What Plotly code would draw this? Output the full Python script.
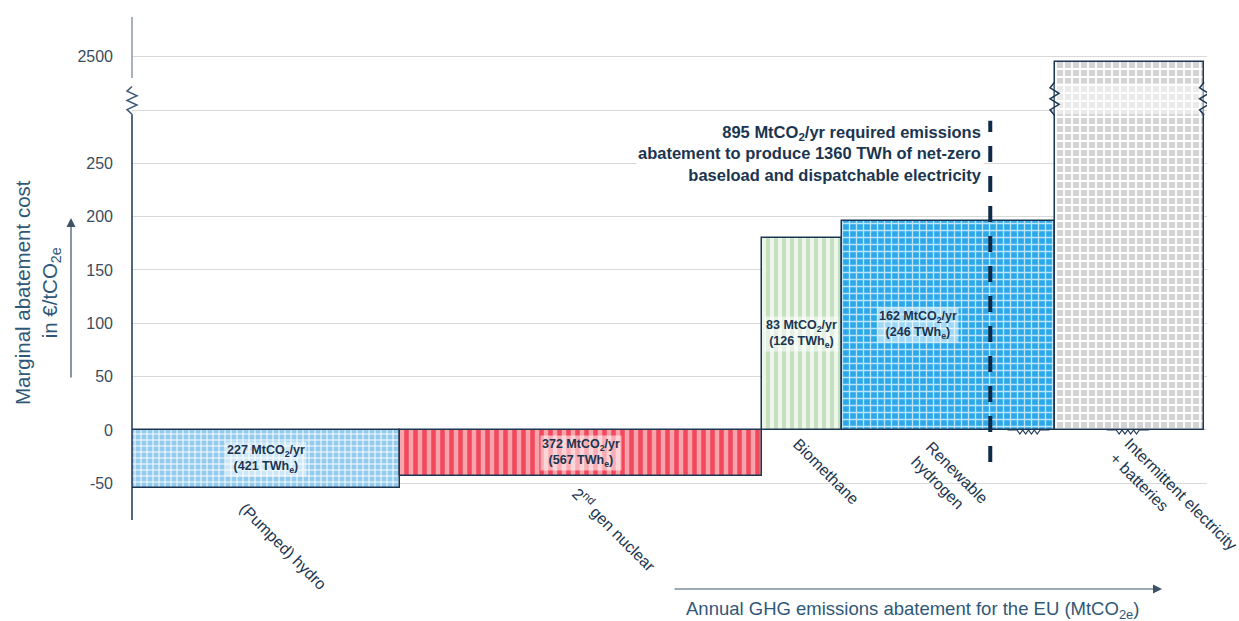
import plotly.graph_objects as go

# ---------------- data ----------------
categories = ["(Pumped) hydro", "2<sup>nd</sup> gen nuclear", "Biomethane",
              "Renewable<br>hydrogen", "Intermittent electricity<br>+ batteries"]
abatement_label_mt = [227, 372, 83, 162]        # MtCO2/yr printed inside the blocks
energy_label_twh = [421, 567, 126, 246]         # TWh_e printed inside the blocks
bar_width_mt = [279, 378, 83, 222, 156]         # block widths as drawn (MtCO2/yr)
abatement_cost = [-54, -43, 180, 196, 2495]     # €/tCO2e
required_abatement_mt = 895
required_twh = 1360
y_tick_values = [-50, 0, 50, 100, 150, 200, 250, 300, 2500]
y_tick_labels = ["-50", "0", "50", "100", "150", "200", "250", "", "2500"]

# ---------------- broken y-axis mapping ----------------
BREAK_AT = 300       # values above this are pulled down
BREAK_SKIP = 2150    # amount removed from values above the break


def disp(v):
    return v if v <= BREAK_AT else v - BREAK_SKIP


# ---------------- geometry / style ----------------
W, H = 1239, 621
ML, MR, MT, MB = 132, 32, 17, 101
PW, PH = W - ML - MR, H - MT - MB
X_RANGE = [0, 1121]
Y_RANGE = [-84.4, 387.2]
UX = (X_RANGE[1] - X_RANGE[0]) / PW   # data units per pixel (x)
UY = (Y_RANGE[1] - Y_RANGE[0]) / PH   # data units per pixel (y)

FONT = "Liberation Sans, Arial, sans-serif"
NAVY = "#1b3550"
TICK_C = "#3c4c5c"
TITLE_C = "#2f5878"
EDGE = "#1c3652"

bar_styles = [
    dict(bg="#93cbef", fg="#ffffff", shape="+", size=6, solidity=0.3),
    dict(bg="#f9a3ac", fg="#f1485b", shape="|", size=9, solidity=0.5),
    dict(bg="#eef6ec", fg="#c4e0bf", shape="|", size=8, solidity=0.5),
    dict(bg="#2aa8ea", fg="#bfe4f8", shape="+", size=7, solidity=0.35),
    dict(bg="#d4d4d4", fg="#ffffff", shape="+", size=8, solidity=0.4),
]
# pixel shifts of the rotated category labels
cat_shift = [(-32, -9), (-15, -4), (-15, -3), (-43, -5), (-25, -2)]

lefts, centers = [], []
acc = 0
for w in bar_width_mt:
    lefts.append(acc)
    centers.append(acc + w / 2)
    acc += w
rights = [l + w for l, w in zip(lefts, bar_width_mt)]

fig = go.Figure()
for i, cat in enumerate(categories):
    s = bar_styles[i]
    fig.add_trace(go.Bar(
        x=[centers[i]], y=[disp(abatement_cost[i])], width=[bar_width_mt[i]],
        marker=dict(color=s["bg"], line=dict(color=EDGE, width=1.5),
                    pattern=dict(shape=s["shape"], fgcolor=s["fg"], bgcolor=s["bg"],
                                 size=s["size"], solidity=s["solidity"], fgopacity=1)),
        hoverinfo="skip", showlegend=False, name=cat.replace("<br>", " ")))

shapes = []
annotations = []

# break band across the intermittent block
BAND = (296, 325)
shapes.append(dict(type="rect", xref="x", yref="y", x0=lefts[4], x1=rights[4],
                   y0=BAND[0], y1=BAND[1], fillcolor="rgba(255,255,255,0.5)",
                   line=dict(width=0), layer="above"))


def vzig(x, y0, y1, amp, n=6):
    pts = []
    for k in range(n + 1):
        yy = y0 + (y1 - y0) * k / n
        if k == 0 or k == n:
            off = 0
        else:
            off = -amp if k % 2 else amp
        pts.append((x + off, yy))
    return "M " + " L ".join(f"{a},{b}" for a, b in pts)


def hzig(xc, half, y, amp, n=8):
    flat = half * 0.45
    pts = [(xc - half, y), (xc - half + flat, y)]
    x0, x1 = xc - half + flat, xc + half - flat
    for k in range(1, n):
        xx = x0 + (x1 - x0) * k / n
        pts.append((xx, y - amp if k % 2 else y))
    pts += [(x1, y), (xc + half, y)]
    return "M " + " L ".join(f"{a},{b}" for a, b in pts)


# y-axis line drawn in pieces with a break symbol
ax_amp = 5 / PW
shapes.append(dict(type="line", xref="paper", yref="y", x0=0, x1=0, y0=Y_RANGE[0], y1=BAND[0],
                   line=dict(color=NAVY, width=1.5)))
shapes.append(dict(type="path", xref="paper", yref="y", path=vzig(0, BAND[0], BAND[1] - 3, ax_amp),
                   line=dict(color="#3d5a78", width=1.5)))
shapes.append(dict(type="line", xref="paper", yref="y", x0=0, x1=0, y0=BAND[1] + 5, y1=Y_RANGE[1],
                   line=dict(color="#8c99a6", width=1.5)))

# break symbols on both sides of the intermittent block
for xe in (lefts[4], rights[4]):
    shapes.append(dict(type="path", xref="x", yref="y",
                       path=vzig(xe, BAND[0] - 1, BAND[1] + 1, 4.5 * UX),
                       line=dict(color=EDGE, width=1.5)))

# small break symbols on the zero line
shapes.append(dict(type="path", xref="x", yref="y",
                   path=hzig(rights[3] - 26 * UX, 21 * UX, 0, 4 * UY),
                   line=dict(color=EDGE, width=1.2)))
shapes.append(dict(type="path", xref="x", yref="y",
                   path=hzig(centers[4] - 1.5 * UX, 21 * UX, 0, 4 * UY),
                   line=dict(color=EDGE, width=1.2)))

# required-abatement dashed line
shapes.append(dict(type="line", xref="x", yref="y", x0=required_abatement_mt, x1=required_abatement_mt,
                   y0=-30, y1=290, line=dict(color="#0f2b47", width=4, dash="16px,14px")))

# value labels inside blocks
label_xshift = [0, 0, 0, -30]
for i in range(4):
    annotations.append(dict(
        x=centers[i], y=disp(abatement_cost[i]) / 2, xref="x", yref="y",
        text=f"<b>{abatement_label_mt[i]} MtCO<sub>2</sub>/yr<br>({energy_label_twh[i]} TWh<sub>e</sub>)</b>",
        showarrow=False, font=dict(size=12.5, color=NAVY, family=FONT),
        bgcolor="rgba(255,255,255,0.55)", borderpad=1, xshift=label_xshift[i]))

# rotated category labels below the blocks
for i, cat in enumerate(categories):
    annotations.append(dict(
        x=centers[i], y=min(0, disp(abatement_cost[i])), xref="x", yref="y",
        text=cat, textangle=45, xanchor="left", yanchor="top", align="left",
        showarrow=False, font=dict(size=16, color=NAVY, family=FONT),
        xshift=cat_shift[i][0], yshift=cat_shift[i][1]))

# note next to the dashed line
annotations.append(dict(
    x=required_abatement_mt, y=290, xref="x", yref="y", xanchor="right", yanchor="top",
    xshift=-6, align="right", showarrow=False, bgcolor="white",
    text=(f"<b>{required_abatement_mt} MtCO<sub>2</sub>/yr required emissions<br>"
          f"abatement to produce {required_twh} TWh of net-zero<br>"
          f"baseload and dispatchable electricity</b>"),
    font=dict(size=16.5, color=NAVY, family=FONT)))


def px_to_paper_x(px):
    return (px - ML) / PW


def px_to_paper_y(py):
    return 1 - (py - MT) / PH


# y-axis title
annotations.append(dict(
    x=px_to_paper_x(37), y=px_to_paper_y(293), xref="paper", yref="paper",
    text="Marginal abatement cost<br>in €/tCO<sub>2e</sub>", textangle=-90,
    showarrow=False, xanchor="center", yanchor="middle", align="center",
    font=dict(size=20.5, color=TITLE_C, family=FONT)))
# y-axis arrow
annotations.append(dict(
    x=px_to_paper_x(71), y=px_to_paper_y(218), xref="paper", yref="paper",
    ax=0, ay=161, axref="pixel", ayref="pixel", text="", showarrow=True,
    arrowhead=2, arrowsize=1.5, arrowwidth=1.2, arrowcolor="#3c5266"))
# x-axis arrow
annotations.append(dict(
    x=px_to_paper_x(1162), y=px_to_paper_y(589), xref="paper", yref="paper",
    ax=-489, ay=0, text="", showarrow=True,
    arrowhead=2, arrowsize=1.5, arrowwidth=1.2, arrowcolor="#3c5266"))
# x-axis title
annotations.append(dict(
    x=px_to_paper_x(912), y=px_to_paper_y(610), xref="paper", yref="paper",
    text="Annual GHG emissions abatement for the EU (MtCO<sub>2e</sub>)",
    showarrow=False, xanchor="center", yanchor="middle",
    font=dict(size=18.5, color=TITLE_C, family=FONT)))

fig.update_layout(
    width=W, height=H,
    margin=dict(l=ML, r=MR, t=MT, b=MB, pad=0),
    paper_bgcolor="white", plot_bgcolor="white",
    barmode="overlay", bargap=0, showlegend=False,
    font=dict(family=FONT, color=NAVY),
    xaxis=dict(range=X_RANGE, showgrid=False, zeroline=False, showline=False,
               showticklabels=False, ticks="", fixedrange=True),
    yaxis=dict(range=Y_RANGE, tickvals=[disp(v) for v in y_tick_values], ticktext=y_tick_labels,
               showgrid=True, gridcolor="#d9d9d9", gridwidth=1, zeroline=False, showline=False,
               ticks="", ticklabelstandoff=18, tickfont=dict(size=16, color=TICK_C, family=FONT),
               fixedrange=True),
    shapes=shapes, annotations=annotations,
)

fig.write_html("out.html", config={"displayModeBar": False},
               post_script="document.body.style.margin='0';")
